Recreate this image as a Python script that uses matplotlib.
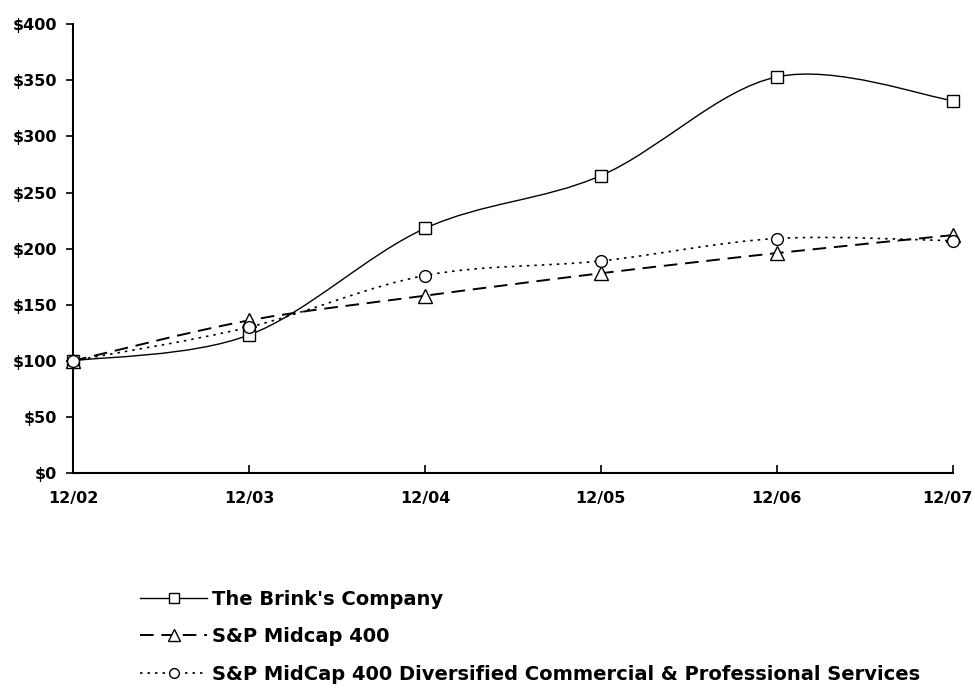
import matplotlib
matplotlib.use("Agg")
import matplotlib.pyplot as plt
import numpy as np
from matplotlib.path import Path
from matplotlib.patches import PathPatch
from matplotlib.lines import Line2D
from matplotlib.transforms import ScaledTranslation

plt.rcParams['font.family'] = ['DejaVu Sans']
plt.rcParams['font.weight'] = 'bold'

periods = ["12/02", "12/03", "12/04", "12/05", "12/06", "12/07"]
brinks = [100, 123, 218, 265, 353, 332]
midcap = [100, 136, 158, 178, 196, 212]
services = [100, 130, 176, 189, 209, 207]
labels = ["The Brink's Company", "S&P Midcap 400",
          "S&P MidCap 400 Diversified Commercial & Professional Services"]
yticks = [0, 50, 100, 150, 200, 250, 300, 350, 400]


def smooth_path(x, y):
    # Excel style smoothed line: Catmull-Rom segments as cubic Beziers
    x = np.asarray(x, float); y = np.asarray(y, float)
    px = np.r_[x[0], x, x[-1]]; py = np.r_[y[0], y, y[-1]]
    verts = [(x[0], y[0])]
    codes = [Path.MOVETO]
    for i in range(1, len(x)):
        c1 = (px[i] + (px[i + 1] - px[i - 1]) / 6, py[i] + (py[i + 1] - py[i - 1]) / 6)
        c2 = (px[i + 1] - (px[i + 2] - px[i]) / 6, py[i + 1] - (py[i + 2] - py[i]) / 6)
        verts += [c1, c2, (px[i + 1], py[i + 1])]
        codes += [Path.CURVE4] * 3
    return Path(verts, codes)


fig = plt.figure(figsize=(9.75, 6.92), dpi=100)
ax = fig.add_axes([0.075, 0.3165, 0.902, 0.6485])
xs = np.arange(len(periods))

styles = [
    dict(series=brinks, ls='-', lw=1.0, marker='s', ms=8.5),
    dict(series=midcap, ls=(0, (7, 4)), lw=1.4, marker='^', ms=9.5),
    dict(series=services, ls=(0, (1.5, 3)), lw=1.2, marker='o', ms=8.5),
]

handles = []
for st, lab in zip(styles, labels):
    ax.add_patch(PathPatch(smooth_path(xs, st['series']), fill=False,
                           edgecolor='black', lw=st['lw'], linestyle=st['ls'],
                           zorder=2, clip_on=False))
    ax.plot(xs, st['series'], linestyle='none', marker=st['marker'], ms=st['ms'],
            mfc='white', mec='black', mew=1.0, zorder=3, clip_on=False)
    handles.append(Line2D([], [], color='black', lw=st['lw'], linestyle=st['ls'],
                          marker=st['marker'], ms=st['ms'] - 1.5, mfc='white',
                          mec='black', mew=1.0))

ax.set_xlim(0, len(periods) - 1)
ax.set_ylim(0, 400)
ax.set_xticks(xs)
ax.set_xticklabels(periods)
ax.set_yticks(yticks)
ax.set_yticklabels(["$%d" % v for v in yticks])
ax.spines['top'].set_visible(False)
ax.spines['right'].set_visible(False)
ax.spines['left'].set_linewidth(1.5)
ax.spines['bottom'].set_linewidth(1.5)
ax.tick_params(axis='x', direction='in', length=6, width=1.2, pad=13, labelsize=11.5)
ax.tick_params(axis='y', direction='out', length=5, width=1.2, pad=6.5, labelsize=11.5)
for t in ax.get_xticklabels() + ax.get_yticklabels():
    t.set_fontweight('bold')

# nudge the last x label so it stays inside the figure
last = ax.get_xticklabels()[-1]
last.set_transform(last.get_transform() + ScaledTranslation(-5 / 100, 0, fig.dpi_scale_trans))

fig.legend(handles, labels, loc='upper left', bbox_to_anchor=(0.126, 0.173),
           frameon=False, handlelength=3.45, handletextpad=0.25,
           labelspacing=0.95, prop={'weight': 'bold', 'size': 14})

fig.savefig("out.png", dpi=100)
